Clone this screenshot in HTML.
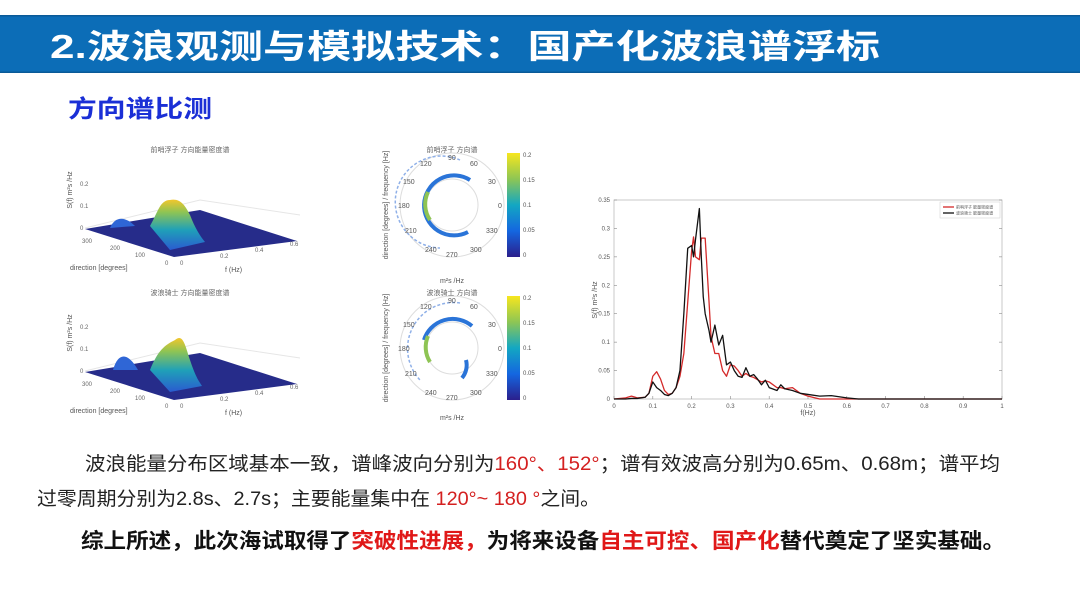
<!DOCTYPE html>
<html><head><meta charset="utf-8">
<style>
html,body{margin:0;padding:0;background:#fff;}
body{width:1080px;height:608px;overflow:hidden;position:relative;font-family:"Liberation Sans","Noto Sans CJK SC",sans-serif;}
svg text{font-family:"Liberation Sans","Noto Sans CJK SC",sans-serif;}
</style></head><body>
<svg width="1080" height="608" viewBox="0 0 1080 608" xmlns="http://www.w3.org/2000/svg">
<defs>
<linearGradient id="peak" x1="0" y1="1" x2="0" y2="0">
<stop offset="0" stop-color="#2a5bd0"/><stop offset="0.4" stop-color="#1fa0b8"/><stop offset="0.75" stop-color="#8ec454"/><stop offset="1" stop-color="#f2c62c"/></linearGradient>
<linearGradient id="cbar" x1="0" y1="1" x2="0" y2="0">
<stop offset="0" stop-color="#2b1f8c"/><stop offset="0.25" stop-color="#1466e0"/><stop offset="0.5" stop-color="#13a7c2"/><stop offset="0.75" stop-color="#8ec654"/><stop offset="1" stop-color="#f7e61e"/></linearGradient>
</defs>
<rect x="0" y="15" width="1080" height="58" fill="#0c6db7"/>
<rect x="0" y="15" width="1080" height="1.5" fill="#0a5a98"/>
<rect x="0" y="71.5" width="1080" height="1.5" fill="#0a5a98"/>
<text x="50" y="58" font-size="33" font-weight="bold" fill="#fff" textLength="830" lengthAdjust="spacingAndGlyphs">2.波浪观测与模拟技术：国产化波浪谱浮标</text>
<text x="68" y="117" font-size="24" font-weight="bold" fill="#1a2fd6" textLength="144" lengthAdjust="spacingAndGlyphs">方向谱比测</text>

<g>
<text x="190" y="152" font-size="7" fill="#666" text-anchor="middle">前哨浮子 方向能量密度谱</text>
<polyline points="85,228 200,200 300,215" fill="none" stroke="#e6e6e6"/>
<polygon points="85,229 200,210 297,241 174,257" fill="#262c8a"/>
<path d="M150,226 C158,212 160,200 170,200 C180,198 185,205 190,215 C195,228 200,236 205,242 L170,250 Z" fill="url(#peak)"/>
<path d="M110,228 C115,216 125,216 135,226 Z" fill="#2f66d6"/>
<text x="72" y="190" font-size="7" fill="#555" transform="rotate(-90 72 190)" text-anchor="middle">S(f) m²s /Hz</text>
<text x="80" y="186" font-size="6" fill="#666">0.2</text><text x="80" y="208" font-size="6" fill="#666">0.1</text><text x="80" y="230" font-size="6" fill="#666">0</text>
<text x="82" y="243" font-size="6" fill="#666">300</text><text x="110" y="250" font-size="6" fill="#666">200</text><text x="135" y="257" font-size="6" fill="#666">100</text><text x="165" y="265" font-size="6" fill="#666">0</text>
<text x="180" y="265" font-size="6" fill="#666">0</text><text x="220" y="258" font-size="6" fill="#666">0.2</text><text x="255" y="252" font-size="6" fill="#666">0.4</text><text x="290" y="246" font-size="6" fill="#666">0.6</text>
<text x="70" y="270" font-size="7" fill="#555">direction [degrees]</text><text x="225" y="272" font-size="7" fill="#555">f (Hz)</text>
</g>
<g>
<text x="190" y="295" font-size="7" fill="#666" text-anchor="middle">波浪骑士 方向能量密度谱</text>
<polyline points="85,371 200,343 300,358" fill="none" stroke="#e6e6e6"/>
<polygon points="85,372 200,353 297,384 174,400" fill="#262c8a"/>
<path d="M150,370 C158,350 165,345 175,340 C183,333 185,345 190,360 C195,375 198,380 202,386 L170,392 Z" fill="url(#peak)"/>
<path d="M113,370 C118,352 128,352 138,370 Z" fill="#2f66d6"/>
<text x="72" y="333" font-size="7" fill="#555" transform="rotate(-90 72 333)" text-anchor="middle">S(f) m²s /Hz</text>
<text x="80" y="329" font-size="6" fill="#666">0.2</text><text x="80" y="351" font-size="6" fill="#666">0.1</text><text x="80" y="373" font-size="6" fill="#666">0</text>
<text x="82" y="386" font-size="6" fill="#666">300</text><text x="110" y="393" font-size="6" fill="#666">200</text><text x="135" y="400" font-size="6" fill="#666">100</text><text x="165" y="408" font-size="6" fill="#666">0</text>
<text x="180" y="408" font-size="6" fill="#666">0</text><text x="220" y="401" font-size="6" fill="#666">0.2</text><text x="255" y="395" font-size="6" fill="#666">0.4</text><text x="290" y="389" font-size="6" fill="#666">0.6</text>
<text x="70" y="413" font-size="7" fill="#555">direction [degrees]</text><text x="225" y="415" font-size="7" fill="#555">f (Hz)</text>
</g>

<g>
<text x="452" y="152" font-size="7" fill="#666" text-anchor="middle">前哨浮子 方向谱</text>
<circle cx="452" cy="205" r="52" fill="none" stroke="#ddd"/>
<circle cx="452" cy="205" r="26" fill="none" stroke="#ddd"/>
<path d="M470,180 A30,30 0 1 0 468,232" fill="none" stroke="#2a74d8" stroke-width="4"/>
<path d="M428,192 A28,28 0 0 0 430,220" fill="none" stroke="#8ec454" stroke-width="4"/>
<path d="M460,160 A46,46 0 1 0 440,248" fill="none" stroke="#8fb0e8" stroke-width="1.5" stroke-dasharray="3 2"/>
<text x="388" y="205" font-size="7" fill="#555" transform="rotate(-90 388 205)" text-anchor="middle">direction [degrees] / frequency [Hz]</text>
<text x="452" y="283" font-size="7" fill="#555" text-anchor="middle">m²s /Hz</text>
<text x="448" y="160" font-size="7" fill="#555">90</text><text x="420" y="166" font-size="7" fill="#555">120</text><text x="470" y="166" font-size="7" fill="#555">60</text>
<text x="403" y="184" font-size="7" fill="#555">150</text><text x="488" y="184" font-size="7" fill="#555">30</text><text x="398" y="208" font-size="7" fill="#555">180</text><text x="498" y="208" font-size="7" fill="#555">0</text>
<text x="405" y="233" font-size="7" fill="#555">210</text><text x="486" y="233" font-size="7" fill="#555">330</text><text x="425" y="252" font-size="7" fill="#555">240</text><text x="470" y="252" font-size="7" fill="#555">300</text><text x="446" y="257" font-size="7" fill="#555">270</text>
<rect x="507" y="153" width="13" height="104" fill="url(#cbar)"/>
<text x="523" y="157" font-size="6" fill="#555">0.2</text><text x="523" y="182" font-size="6" fill="#555">0.15</text><text x="523" y="207" font-size="6" fill="#555">0.1</text><text x="523" y="232" font-size="6" fill="#555">0.05</text><text x="523" y="257" font-size="6" fill="#555">0</text>
</g>
<g>
<text x="452" y="295" font-size="7" fill="#666" text-anchor="middle">波浪骑士 方向谱</text>
<circle cx="452" cy="348" r="52" fill="none" stroke="#ddd"/>
<circle cx="452" cy="348" r="26" fill="none" stroke="#ddd"/>
<path d="M472,326 A30,30 0 0 0 424,340" fill="none" stroke="#2a74d8" stroke-width="4"/>
<path d="M428,336 A28,28 0 0 0 430,362" fill="none" stroke="#8ec454" stroke-width="4"/>
<path d="M466,360 A20,20 0 0 1 462,378" fill="none" stroke="#2a74d8" stroke-width="4"/>
<path d="M460,303 A46,46 0 0 0 420,380" fill="none" stroke="#8fb0e8" stroke-width="1.5" stroke-dasharray="3 2"/>
<text x="388" y="348" font-size="7" fill="#555" transform="rotate(-90 388 348)" text-anchor="middle">direction [degrees] / frequency [Hz]</text>
<text x="452" y="420" font-size="7" fill="#555" text-anchor="middle">m²s /Hz</text>
<text x="448" y="303" font-size="7" fill="#555">90</text><text x="420" y="309" font-size="7" fill="#555">120</text><text x="470" y="309" font-size="7" fill="#555">60</text>
<text x="403" y="327" font-size="7" fill="#555">150</text><text x="488" y="327" font-size="7" fill="#555">30</text><text x="398" y="351" font-size="7" fill="#555">180</text><text x="498" y="351" font-size="7" fill="#555">0</text>
<text x="405" y="376" font-size="7" fill="#555">210</text><text x="486" y="376" font-size="7" fill="#555">330</text><text x="425" y="395" font-size="7" fill="#555">240</text><text x="470" y="395" font-size="7" fill="#555">300</text><text x="446" y="400" font-size="7" fill="#555">270</text>
<rect x="507" y="296" width="13" height="104" fill="url(#cbar)"/>
<text x="523" y="300" font-size="6" fill="#555">0.2</text><text x="523" y="325" font-size="6" fill="#555">0.15</text><text x="523" y="350" font-size="6" fill="#555">0.1</text><text x="523" y="375" font-size="6" fill="#555">0.05</text><text x="523" y="400" font-size="6" fill="#555">0</text>
</g>

<g id="chart"></g>

<text x="85" y="470" font-size="19" fill="#222" textLength="915" lengthAdjust="spacingAndGlyphs">波浪能量分布区域基本一致，谱峰波向分别为<tspan fill="#d42020">160°、152°</tspan>；谱有效波高分别为0.65m、0.68m；谱平均</text>
<text x="37" y="505" font-size="19" fill="#222" textLength="563" lengthAdjust="spacingAndGlyphs">过零周期分别为2.8s、2.7s；主要能量集中在 <tspan fill="#d42020">120°~ 180 °</tspan>之间。</text>
<text x="81" y="548" font-size="21" font-weight="bold" fill="#111" textLength="924" lengthAdjust="spacingAndGlyphs">综上所述，此次海试取得了<tspan fill="#e01818">突破性进展，</tspan>为将来设备<tspan fill="#e01818">自主可控、国产化</tspan>替代奠定了坚实基础。</text>
</svg>
<script>
const freqs=[0,0.03,0.045,0.06,0.08,0.09,0.1,0.11,0.12,0.13,0.14,0.15,0.16,0.17,0.18,0.19,0.2,0.205,0.21,0.22,0.225,0.23,0.235,0.245,0.25,0.26,0.27,0.28,0.29,0.3,0.31,0.32,0.33,0.34,0.35,0.36,0.37,0.38,0.39,0.4,0.42,0.43,0.44,0.46,0.48,0.5,0.53,0.56,0.6,0.63,0.7,1];
const redSeries=[0,0.002,0.005,0.002,0.003,0.01,0.04,0.048,0.035,0.015,0.008,0.01,0.02,0.04,0.08,0.17,0.26,0.285,0.25,0.245,0.283,0.283,0.283,0.17,0.11,0.08,0.08,0.05,0.04,0.06,0.058,0.05,0.04,0.045,0.04,0.038,0.034,0.03,0.032,0.03,0.02,0.02,0.018,0.02,0.01,0.005,0,0,0,0,0,0];
const blackSeries=[0,0,0.001,0.001,0.003,0.01,0.03,0.02,0.015,0.008,0.006,0.01,0.02,0.05,0.15,0.265,0.27,0.25,0.28,0.335,0.25,0.18,0.15,0.12,0.10,0.13,0.095,0.112,0.06,0.065,0.05,0.04,0.038,0.055,0.04,0.043,0.035,0.025,0.033,0.02,0.015,0.025,0.018,0.015,0.01,0.008,0.005,0.006,0.002,0,0,0];
const xTicks=["0","0.1","0.2","0.3","0.4","0.5","0.6","0.7","0.8","0.9","1"];
const yTicks=["0","0.05","0.1","0.15","0.2","0.25","0.3","0.35"];
const seriesNames=["前哨浮子 能量密度谱","波浪骑士 能量密度谱"];
const NS="http://www.w3.org/2000/svg";
const g=document.getElementById('chart');
const L=614,R=1002,T=200,B=399;
const xs=v=>L+(v-0)/(1-0)*(R-L);
const ys=v=>B-(v/0.35)*(B-T);
function mk(tag,attrs,parent){const e=document.createElementNS(NS,tag);for(const k in attrs)e.setAttribute(k,attrs[k]);(parent||g).appendChild(e);return e;}
const frame=mk('rect',{x:L,y:T,width:R-L,height:B-T,fill:'#fff',stroke:'#bbb','stroke-width':0.8});


xTicks.forEach(t=>{const v=parseFloat(t);const x=xs(v);
mk('line',{x1:x,x2:x,y1:B,y2:B-3,stroke:'#888','stroke-width':0.6});
const tx=mk('text',{x:x,y:B+9,'font-size':6,fill:'#555','text-anchor':'middle'});tx.textContent=t;

});
yTicks.forEach(t=>{const v=parseFloat(t);const y=ys(v);
mk('line',{x1:L,x2:L+3,y1:y,y2:y,stroke:'#888','stroke-width':0.6});
mk('line',{x1:R,x2:R-3,y1:y,y2:y,stroke:'#888','stroke-width':0.6});
const tx=mk('text',{x:L-4,y:y+2,'font-size':6,fill:'#555','text-anchor':'end'});tx.textContent=t;

});
const xl=mk('text',{x:(L+R)/2,y:B+16,'font-size':7,fill:'#555','text-anchor':'middle'});xl.textContent='f(Hz)';


const yl=mk('text',{x:597,y:300,'font-size':7,fill:'#555','text-anchor':'middle',transform:'rotate(-90 597 300)'});yl.textContent='S(f) m²s /Hz';


function line(vals,color,name){const p=mk('polyline',{points:freqs.map((f,i)=>xs(f)+','+ys(vals[i])).join(' '),fill:'none',stroke:color,'stroke-width':1.3,'stroke-linejoin':'round'});

}
line(redSeries,'#d42a2a','red-series-line');
line(blackSeries,'#111','black-series-line');
const lg=mk('rect',{x:940,y:202,width:60,height:16,fill:'#fff',stroke:'#ccc','stroke-width':0.5});


[['#d42a2a',0],['#111',1]].forEach(([c,i])=>{const yy=207+i*6;
mk('line',{x1:943,x2:954,y1:yy,y2:yy,stroke:c,'stroke-width':1.3});
const t=mk('text',{x:956,y:yy+1.5,'font-size':4,fill:'#555'});t.textContent=seriesNames[i];

});
</script>
</body></html>
